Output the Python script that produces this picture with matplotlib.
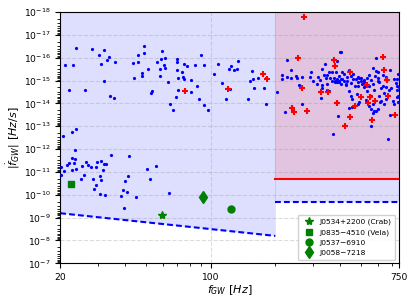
import numpy as np
import matplotlib
matplotlib.use("Agg")
import matplotlib.pyplot as plt
from matplotlib.ticker import LogLocator, NullFormatter

# pulsars below 200 Hz (f_GW in Hz, |fdot_GW| in Hz/s)
low_f = [23.6, 21.0, 23.0, 28.1, 32.0, 30.2, 33.7, 33.0, 30.8, 35.9, 31.9, 21.9, 26.2, 34.0, 35.7,
         20.7, 22.7, 23.7, 48.9, 45.8, 48.9, 43.8, 46.2, 51.2, 48.1, 48.1, 44.3, 56.4, 59.2, 58.9,
         61.2, 60.6, 61.2, 58.0, 58.3, 63.2, 53.4, 53.0, 65.1, 69.6, 69.6, 70.0, 75.5, 77.4, 73.4,
         70.6, 74.1, 74.9, 81.5, 85.1, 90.3, 93.7, 86.9, 81.5, 70.3, 69.3, 67.2, 88.5, 93.7, 97.5,
         103.8, 108.7, 113.6, 121.6, 124.4, 128.5, 132.1, 133.8, 123.2, 118.2, 148.6, 152.3, 158.0,
         156.4, 166.4, 180.9, 176.9, 181.6, 159.0,
         23.5, 22.6, 23.4, 21.9, 21.5, 20.1, 20.9, 20.1, 22.8, 23.8, 23.3, 25.3, 26.5, 26.9, 27.8,
         29.2, 29.8, 31.0, 31.9, 32.5, 31.7, 34.3, 42.0, 25.7, 25.0, 28.4, 30.7, 31.0, 29.3, 28.7,
         30.5, 32.3, 39.9, 41.4, 39.0, 41.0, 38.5, 44.9, 50.7, 55.9, 52.2, 64.4, 39.6]
low_fdot = [3.6e-17, 2.1e-16, 2.1e-16, 4.2e-17, 4.7e-17, 7.7e-17, 8.9e-17, 1.3e-16, 1.9e-16, 1.5e-16,
            1.0e-15, 2.6e-15, 2.7e-15, 4.9e-15, 6.0e-15, 2.7e-13, 1.8e-13, 1.25e-13, 3.1e-17, 7.7e-17,
            6.1e-17, 1.7e-16, 1.5e-16, 3.0e-16, 4.7e-16, 6.2e-16, 7.7e-16, 1.5e-16, 4.9e-17, 1.15e-16,
            1.05e-16, 2.1e-16, 2.75e-16, 3.1e-16, 6.3e-16, 1.15e-15, 2.85e-15, 3.4e-15, 1.05e-14,
            1.08e-16, 1.6e-16, 3.4e-16, 1.8e-16, 2.4e-16, 4.2e-16, 7.5e-16, 6.6e-16, 8.9e-16, 9.8e-16,
            2.1e-16, 7.7e-17, 2.1e-16, 1.7e-15, 3.3e-15, 2.5e-15, 5.1e-15, 1.85e-14, 6.6e-15, 1.13e-14,
            2.0e-14, 4.9e-16, 1.8e-16, 1.33e-15, 3.1e-16, 2.3e-16, 3.6e-16, 3.1e-16, 1.36e-16, 2.3e-15,
            6.4e-15, 6.4e-15, 1.09e-15, 8.9e-16, 3.7e-16, 7.3e-16, 7.7e-16, 2.05e-15, 1.1e-14, 2.1e-15,
            1.14e-12, 2.4e-12, 2.6e-12, 4.1e-12, 5.1e-12, 6.1e-12, 9.4e-12, 1.3e-11, 8.5e-12, 7.1e-12,
            4.1e-12, 5.5e-12, 3.7e-12, 4.8e-12, 5.8e-12, 5.8e-12, 3.7e-12, 3.4e-12, 4.5e-12, 4.6e-12,
            7.9e-12, 1.9e-12, 2.0e-12, 1.3e-11, 1.95e-11, 1.95e-11, 1.5e-11, 2.15e-11, 3.7e-11, 5.7e-11,
            9.1e-11, 1.07e-10, 2.55e-11, 1.55e-11, 5.9e-11, 7.7e-11, 1.15e-10, 1.27e-10, 7.4e-12,
            5.3e-12, 1.95e-11, 8.2e-11, 3.9e-10]

# pulsars above 200 Hz
high_f = [226, 236, 214, 215, 226, 237, 249, 253, 267, 259, 204.5, 292, 291, 299, 316, 323, 331, 340,
          338, 343, 346, 330, 354, 366, 366, 379, 388, 395, 376, 399, 357, 325, 265, 223, 392, 372,
          403, 385, 439, 570, 587, 682, 556, 684, 665, 566, 439, 455, 488, 442, 449, 485, 587, 598,
          566, 745, 715, 738, 750, 715, 733, 608, 653, 619, 608, 630, 653, 677, 416, 395, 410, 433,
          459, 473, 490, 388, 403, 425, 449, 469, 485, 500, 516, 535, 556, 566, 546, 521, 587, 603,
          582, 603, 630, 653, 382,
          455, 480, 516, 535, 556, 572, 598, 619, 642, 689, 738, 727, 742, 548, 519, 500, 486, 507,
          459, 347, 358, 377, 388, 410, 449, 485, 346, 331, 313, 527, 548, 576, 556, 614, 642, 701,
          742, 738, 382, 395, 403, 416, 425, 433]
high_fdot = [1.23e-16, 3.4e-16, 5.7e-16, 8.6e-16, 6.6e-16, 7.5e-16, 6.1e-16, 7.7e-16, 6.8e-16, 1.5e-15,
             3.0e-15, 4.1e-16, 6.6e-16, 1.05e-15, 6.6e-16, 9.8e-16, 3.1e-16, 1.8e-16, 5.7e-16, 7.3e-16,
             1.4e-15, 1.56e-15, 4.4e-16, 4.1e-16, 1.05e-15, 1.2e-15, 1.12e-15, 1.0e-15, 7.5e-16, 5.5e-17,
             2.85e-15, 5.8e-15, 1.05e-14, 2.45e-14, 3.65e-14, 2.2e-13,
             5.4e-17, 1.36e-16, 3.4e-16, 2.7e-16, 9.8e-17, 3.4e-16, 9.3e-14, 3.1e-14, 3.5e-13, 2.6e-14,
             1.6e-14, 1.5e-14, 9.0e-15, 2.8e-15, 4.6e-15, 1.05e-14, 2.06e-14, 1.8e-14, 1.05e-14, 4.6e-15,
             1.05e-14, 1.7e-15, 2.0e-15, 8.1e-16, 8.1e-16, 4.6e-15, 6.4e-15, 7.5e-15, 1.2e-15, 1.7e-15,
             2.0e-15, 2.5e-15, 5.2e-16, 6.1e-16, 8.6e-16, 1.0e-15, 8.6e-16, 8.1e-16, 7.3e-16, 1.2e-15,
             1.4e-15, 1.56e-15, 1.33e-15, 1.8e-15, 1.7e-15, 1.0e-15, 1.2e-15, 7.3e-16, 9.2e-16, 1.4e-15,
             1.7e-15, 1.8e-15, 3.7e-16, 4.1e-16, 6.1e-16, 7.3e-16, 5.7e-16, 6.6e-16, 4.4e-16,
             6.6e-15, 3.8e-15, 1.85e-15, 2.8e-15, 4.6e-15, 2.6e-15, 1.0e-15, 2.1e-15, 3.6e-15, 2.1e-15,
             5.1e-15, 1.33e-15, 4.9e-16, 5.5e-16, 9.2e-16, 7.7e-16, 1.2e-15, 1.4e-15, 5.2e-16, 5.5e-16,
             7.7e-16, 1.0e-15, 8.6e-16, 4.4e-16, 6.1e-16, 6.8e-16, 2.6e-15, 2.1e-15, 1.4e-15, 7.2e-15,
             1.3e-14, 2.2e-14, 1.8e-14, 9.0e-15, 1.05e-14, 7.5e-15, 9.0e-15, 2.6e-15, 1.0e-15, 1.2e-15,
             8.1e-16, 1.0e-15, 1.4e-15, 6.8e-16]

# red crosses
red_f = [75.9, 119.9, 174.5, 183, 272, 254, 266, 374, 377, 325, 350, 387, 240, 244, 282, 444, 630,
         637, 662, 665, 501, 552, 541, 582, 388, 469, 535, 443, 421, 562, 720]
red_fdot = [2.85e-15, 2.3e-15, 5.0e-16, 8.6e-16, 1.6e-18, 1.04e-16, 2.2e-15, 1.3e-16, 2.4e-16,
            3.05e-15, 3.05e-15, 9.9e-15, 1.63e-14, 2.3e-14, 2.06e-14, 4.4e-16, 8.8e-17, 3.4e-16,
            9.2e-16, 4.6e-15, 5.1e-15, 5.4e-15, 9.5e-15, 7.55e-15, 9.5e-15, 1.25e-14, 1.5e-15,
            4.0e-14, 9.3e-14, 5.2e-14, 3.1e-14]

# known young pulsars
psr_names = ["J0534+2200 (Crab)", "J0835\u22124510 (Vela)", "J0537\u22126910", "J0058\u22127218"]
psr_f = [59.4, 22.4, 124.5, 92.0]
psr_fdot = [7.4e-10, 3.2e-11, 4.2e-10, 1.3e-10]
psr_markers = ["*", "s", "o", "d"]
psr_sizes = [6, 5, 5, 6]

# search limits
band_edges = [20, 200, 750]
blue_lim_low = [6.4e-10, 6.3e-9]
blue_lim_high = 2.1e-10
red_lim_high = 2.0e-11

fig, ax = plt.subplots(figsize=(4.15, 3.03), dpi=100)
fig.subplots_adjust(left=0.145, right=0.961, top=0.96, bottom=0.131)

ax.set_xscale("log")
ax.set_yscale("log")

f_lo = band_edges[:2]
f_hi = band_edges[1:]
ax.fill_between(f_lo, [1e-18, 1e-18], blue_lim_low, color="blue", alpha=0.13, lw=0, zorder=0)
ax.fill_between(f_hi, [1e-18, 1e-18], [blue_lim_high] * 2, color="blue", alpha=0.13, lw=0, zorder=0)
ax.fill_between(f_hi, [1e-18, 1e-18], [red_lim_high] * 2, color="red", alpha=0.12, lw=0, zorder=0)

ax.plot(f_lo, blue_lim_low, color="blue", ls="--", lw=1.5, dashes=(2.8, 1.5), zorder=2)
ax.plot(f_hi, [blue_lim_high] * 2, color="blue", ls="--", lw=1.5, dashes=(2.8, 1.5), zorder=2)
ax.plot(f_hi, [red_lim_high] * 2, color="red", lw=1.5, zorder=2)

ax.plot(low_f + high_f, low_fdot + high_fdot, "o", color="blue", ms=2.3, mew=0, zorder=3)
ax.plot(red_f, red_fdot, "+", color="red", ms=5, mew=1.5, zorder=4)

for name, f, fd, m, s in zip(psr_names, psr_f, psr_fdot, psr_markers, psr_sizes):
    ax.plot([f], [fd], m, color="green", ms=s, ls="", label=name, zorder=5)

ax.set_xlim(20, 750)
ax.set_ylim(1e-7, 1e-18)
ax.set_xticks([20, 100, 750])
ax.set_xticklabels(["20", "100", "750"])
ax.xaxis.set_minor_formatter(NullFormatter())
ax.yaxis.set_major_locator(LogLocator(base=10, numticks=20))
ax.yaxis.set_minor_locator(LogLocator(base=10, subs=np.arange(2, 10), numticks=200))
ax.yaxis.set_minor_formatter(NullFormatter())
ax.tick_params(labelsize=6.6)
ax.grid(True, which="major", ls="--", color="0.6", alpha=0.35, lw=0.8)

ax.set_xlabel(r"$f_{GW}$ [$Hz$]", fontsize=8, labelpad=1)
ax.set_ylabel(r"$|\dot{f}_{GW}|$ [$Hz/s$]", fontsize=8, labelpad=1)

ax.legend(loc="lower right", fontsize=5.4, labelspacing=0.5, handletextpad=0.4,
          borderpad=0.5, framealpha=0.9)

plt.savefig("out.png", dpi=100)
